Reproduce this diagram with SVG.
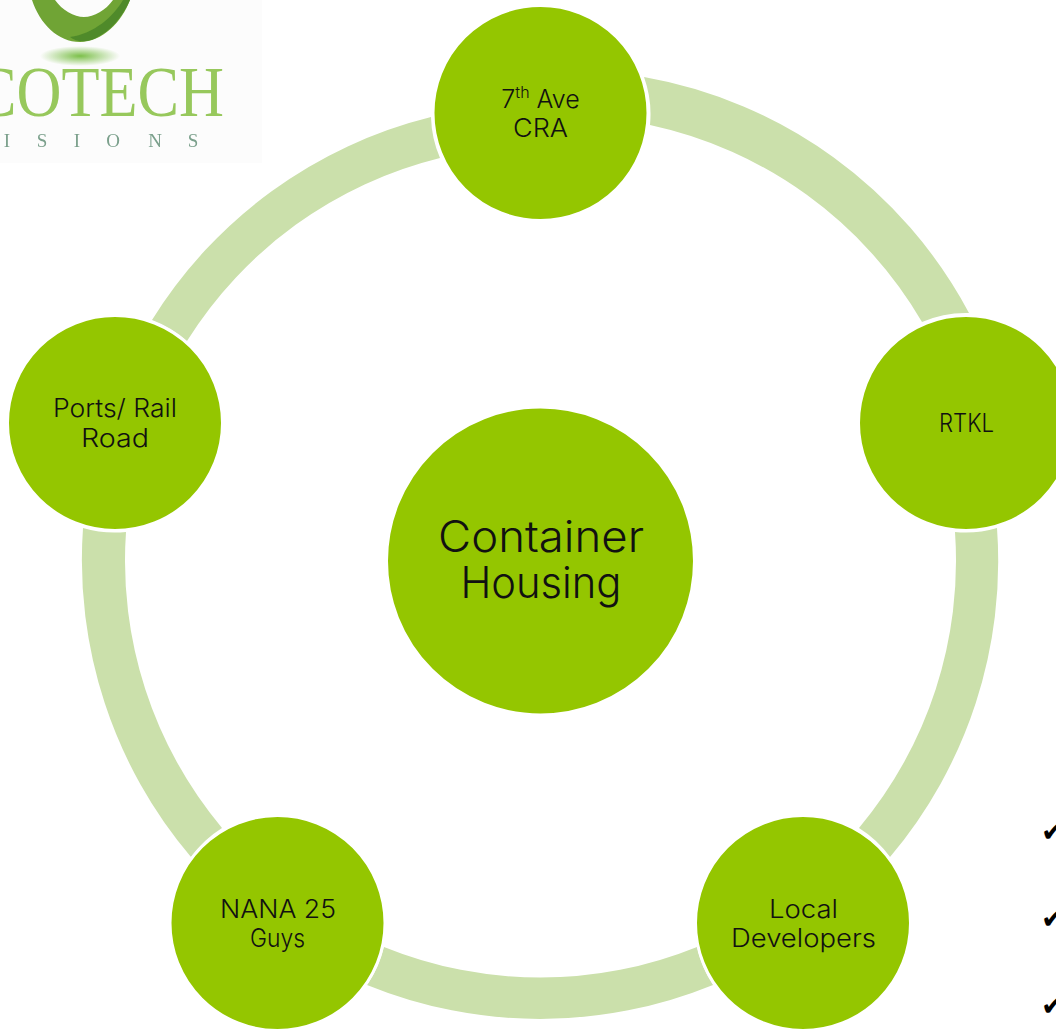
<svg xmlns="http://www.w3.org/2000/svg" width="1056" height="1029" viewBox="0 0 1056 1029">
<style>
.arc{fill:#cbe0ab;stroke:none}
.node{fill:#94c600;stroke:#fff;stroke-width:3}
.lbl{font-family:"Inter","Liberation Sans",Arial,sans-serif;font-weight:300;font-size:25px;fill:#111;text-anchor:middle}
.big{font-family:"Inter","Liberation Sans",Arial,sans-serif;font-weight:300;font-size:43px;fill:#111;text-anchor:middle}
.chk{font-family:"DejaVu Sans",sans-serif;font-size:28px;fill:#000}
</style>
<defs>
<radialGradient id="shadow"><stop offset="0" stop-color="#7cc04a"/><stop offset="1" stop-color="#fcfcfc"/></radialGradient>
<filter id="soft" x="-5%" y="-5%" width="110%" height="110%"><feGaussianBlur stdDeviation="0.6"/></filter>
</defs>
<rect width="1056" height="1029" fill="#fff"/>
<g id="logo">
<rect x="0" y="0" width="262" height="163" fill="#fcfcfc"/>
<g filter="url(#soft)">
<path d="M32 0C40 24 58 42 80 42C102 42 122 22 130 0L113 0C106 10 94 17 84 17C74 17 62 10 55 0Z" fill="#6fa434"/>
<path d="M70 37C76 42 86 43 96 38C110 31 122 18 130 0L123 0C114 16 94 34 70 37Z" fill="#4f8a2a"/>
<ellipse cx="80" cy="56" rx="40" ry="10" fill="url(#shadow)"/>
<text x="-25" y="116" font-family="Liberation Serif,serif" font-size="71" fill="#97c85c" textLength="249" lengthAdjust="spacingAndGlyphs">COTECH</text>
<text x="7 42 77 113 155 193" y="147" font-family="Liberation Serif,serif" font-size="19" fill="#7ba08c" text-anchor="middle">ISIONS</text>
</g>
</g>
<g id="connectors">
<path class="arc" d="M644 77A458 458 0 0 1 969 313A110 110 0 0 0 922 322A416 416 0 0 0 650 125A110 110 0 0 0 644 77Z"/>
<path class="arc" d="M997 528A458 458 0 0 1 890 857A110 110 0 0 0 859 828A416 416 0 0 0 955 532A110 110 0 0 0 997 528Z"/>
<path class="arc" d="M713 985A458 458 0 0 1 367 985A110 110 0 0 0 384 947A416 416 0 0 0 697 947A110 110 0 0 0 713 985Z"/>
<path class="arc" d="M191 857A458 458 0 0 1 83 528A110 110 0 0 0 126 532A416 416 0 0 0 222 828A110 110 0 0 0 191 857Z"/>
<path class="arc" d="M152 320A458 458 0 0 1 431 117A110 110 0 0 0 440 158A416 416 0 0 0 187 341A110 110 0 0 0 152 320Z"/>
</g>
<g id="center"><circle class="node" cx="540.5" cy="561" r="154"/>
<text class="big" x="541" y="552" textLength="206" lengthAdjust="spacingAndGlyphs">Container</text>
<text class="big" x="541" y="598" textLength="161" lengthAdjust="spacingAndGlyphs">Housing</text></g>
<g id="node-7th-ave"><circle class="node" cx="540.5" cy="113" r="107.5"/>
<text class="lbl" x="540.5" y="108">7<tspan font-size="16" dy="-10">th</tspan><tspan dy="10"> Ave</tspan></text>
<text class="lbl" x="540.5" y="137" textLength="55" lengthAdjust="spacingAndGlyphs">CRA</text></g>
<g id="node-rtkl"><circle class="node" cx="966" cy="423" r="107.5"/>
<text class="lbl" x="966.5" y="432" textLength="55" lengthAdjust="spacingAndGlyphs">RTKL</text></g>
<g id="node-local"><circle class="node" cx="803" cy="923" r="107.5"/>
<text class="lbl" x="803.5" y="918" textLength="69" lengthAdjust="spacingAndGlyphs">Local</text>
<text class="lbl" x="803.5" y="947" textLength="145" lengthAdjust="spacingAndGlyphs">Developers</text></g>
<g id="node-nana"><circle class="node" cx="277.5" cy="923" r="107.5"/>
<text class="lbl" x="278" y="918" textLength="116" lengthAdjust="spacingAndGlyphs">NANA 25</text>
<text class="lbl" x="277.5" y="947" textLength="55" lengthAdjust="spacingAndGlyphs">Guys</text></g>
<g id="node-ports"><circle class="node" cx="115" cy="423" r="107.5"/>
<text class="lbl" x="115" y="417" textLength="124" lengthAdjust="spacingAndGlyphs">Ports/ Rail</text>
<text class="lbl" x="115" y="447" textLength="68" lengthAdjust="spacingAndGlyphs">Road</text></g>
<g id="checks">
<text class="chk" x="1041" y="841">✔</text>
<text class="chk" x="1041" y="928">✔</text>
<text class="chk" x="1041" y="1015">✔</text>
</g>
</svg>
